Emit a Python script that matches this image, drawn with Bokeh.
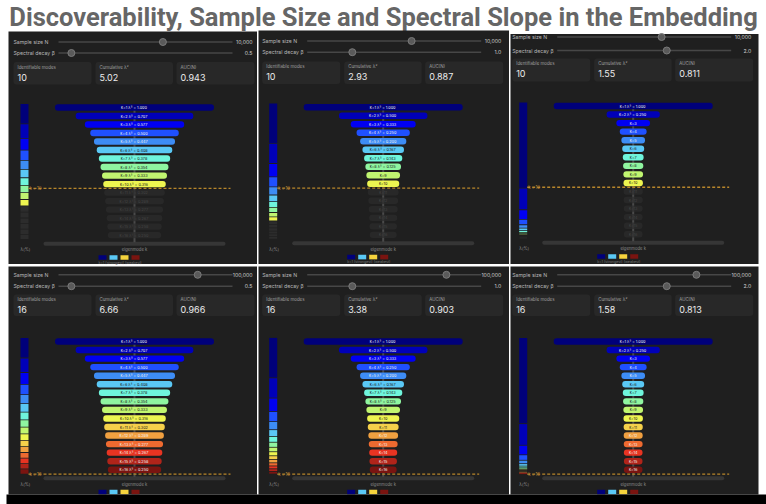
import math
from bokeh.plotting import figure
from bokeh.models import Range1d, ColumnDataSource
from bokeh.core.properties import value
from bokeh.embed import file_html
from bokeh.resources import INLINE

# ---- data -------------------------------------------------------------
panel_N = [10000, 10000, 10000, 100000, 100000, 100000]
panel_N_label = ["10,000", "10,000", "10,000", "100,000", "100,000", "100,000"]
panel_beta = [0.5, 1.0, 2.0, 0.5, 1.0, 2.0]
panel_beta_label = ["0.5", "1.0", "2.0", "0.5", "1.0", "2.0"]
identifiable_modes = [10, 10, 10, 16, 16, 16]
cumulative_lambda = [5.02, 2.93, 1.55, 6.66, 3.38, 1.58]
auc_N = [0.943, 0.887, 0.811, 0.966, 0.903, 0.813]

eigen_b05 = [1.000, 0.707, 0.577, 0.500, 0.447, 0.408, 0.378, 0.354,
             0.333, 0.316, 0.302, 0.289, 0.277, 0.267, 0.258, 0.250]
eigen_b10 = [1.000, 0.500, 0.333, 0.250, 0.200, 0.167, 0.143, 0.125,
             0.111, 0.100, 0.091, 0.083, 0.077, 0.071, 0.067, 0.063]
eigen_b20 = [1.000, 0.250, 0.111, 0.063, 0.040, 0.028, 0.020, 0.016,
             0.012, 0.010, 0.008, 0.007, 0.006, 0.005, 0.004, 0.004]
eigen_by_beta = {0.5: eigen_b05, 1.0: eigen_b10, 2.0: eigen_b20}

mode_colors = ["#00007a", "#0000b8", "#0000f2", "#1f50ff", "#3d8cf5", "#5ac8f5",
               "#6ff5dc", "#8ff5a0", "#c0f570", "#eef550", "#f5d04a", "#f0a040",
               "#ee6a30", "#e83422", "#b0241a", "#7a1410"]
dark_text_modes = [6, 7, 8, 9, 10, 11]
legend_colors = ["#00007a", "#5ac8f5", "#f5d33d", "#7a1410"]

N_slider_range = (10, 1_000_000)      # log slider
beta_slider_range = (0.3, 3.0)

# ---- layout (pixel space) ---------------------------------------------
W, H = 766, 504
panel_box = [(8, 256.5, 31, 263.5), (258, 508.5, 30, 263.5), (510, 758, 33.5, 263.5),
             (8, 256.5, 266, 494), (258, 508.5, 266, 494), (510, 758, 266, 494)]
stack_left = [20, 268.7, 518.7]
header_y = [(41.5, 52.5), (40.5, 51.7), (36.5, 50), (274.3, 285.7), (274.3, 285.7), (274.3, 285.7)]
card_y = [(61.5, 84), (61, 83.5), (58, 81), (294, 315.5), (294, 315.5), (294, 315.5)]
first_y = [107, 106.7, 105.5, 341, 341, 341]
row_pitch = [8.51, 8.51, 8.55, 8.55, 8.55, 8.55]

FONT = value("Inter")

p = figure(width=W, height=H, x_range=Range1d(0, W), y_range=Range1d(H, 0),
           output_backend="svg", toolbar_location=None, min_border=0)
p.axis.visible = False
p.grid.visible = False
p.outline_line_color = None
p.background_fill_color = "white"
p.border_fill_color = "white"

# title
p.text(x=[W / 2], y=[16], text=["Discoverability, Sample Size and Spectral Slope in the Embedding"],
       text_font=value("Roboto"), text_font_style="bold",
       text_font_size="25.5px", text_color="#666666", text_align="center",
       text_baseline="middle")

# panel backgrounds
bg = dict(l=[b[0] for b in panel_box], r=[b[1] for b in panel_box],
          t=[b[2] for b in panel_box], b=[b[3] for b in panel_box])
p.quad(left="l", right="r", top="t", bottom="b", source=ColumnDataSource(bg),
       fill_color="#1f1f1f", line_color=None)

txt = dict(x=[], y=[], text=[], size=[], color=[], align=[])
def add_text(x, y, s, size, color, align="left"):
    txt["x"].append(x); txt["y"].append(y); txt["text"].append(s)
    txt["size"].append(f"{size}px"); txt["color"].append(color); txt["align"].append(align)

tracks = dict(x0=[], x1=[], y=[])
knobs = dict(x=[], y=[])
cards = dict(l=[], r=[], t=[], b=[])
bars = dict(l=[], r=[], t=[], b=[], color=[], alpha=[])
stack = dict(l=[], r=[], t=[], b=[], color=[])
vlines = dict(x=[], y0=[], y1=[])
dash = dict(x0=[], x1=[], y=[])
ktracks = dict(l=[], r=[], t=[], b=[])
swatch = dict(l=[], r=[], t=[], b=[], color=[])

for i in range(6):
    r, c = divmod(i, 3)
    sx = stack_left[c]
    # sliders
    t0, t1 = sx + 38, sx + 212
    fN = ((math.log10(panel_N[i]) - math.log10(N_slider_range[0])) /
          (math.log10(N_slider_range[1]) - math.log10(N_slider_range[0])))
    fB = (panel_beta[i] - beta_slider_range[0]) / (beta_slider_range[1] - beta_slider_range[0])
    for yy, lab, val, frac in [(header_y[i][0], "Sample size N", panel_N_label[i], fN),
                               (header_y[i][1], "Spectral decay β", panel_beta_label[i], fB)]:
        add_text(sx - 7, yy, lab, 5.2, "#b8b8b8")
        add_text(sx + 232, yy, val, 5.2, "#d0d0d0", "right")
        tracks["x0"].append(t0); tracks["x1"].append(t1); tracks["y"].append(yy)
        knobs["x"].append(t0 + frac * (t1 - t0)); knobs["y"].append(yy)
    # stat cards
    ct, cb = card_y[i]
    for (a, b_), lab, val in [((-7, 71), "Identifiable modes", f"{identifiable_modes[i]}"),
                              ((75, 152.5), "Cumulative λ²", f"{cumulative_lambda[i]:.2f}"),
                              ((156, 234), "AUC(N)", f"{auc_N[i]:.3f}")]:
        cards["l"].append(sx + a); cards["r"].append(sx + b_)
        cards["t"].append(ct); cards["b"].append(cb)
        add_text(sx + a + 4, ct + 5, lab, 4.4, "#a0a0a0")
        add_text(sx + a + 4, ct + 15, val, 9, "#ececec")
    # funnel
    lam = eigen_by_beta[panel_beta[i]]
    nid = identifiable_modes[i]
    cx = sx + 114
    y1 = first_y[i]
    pitch = row_pitch[i]
    ylast = y1 + 15 * pitch
    vlines["x"].append(cx); vlines["y0"].append(y1); vlines["y1"].append(ylast + 7)
    total = sum(lam)
    top = y1 - 4
    span = (ylast + 4.3) - top
    acc = top
    for k in range(1, 17):
        v = lam[k - 1]
        yk = y1 + (k - 1) * pitch
        w = 18 + 141 * v
        active = k <= nid
        bars["l"].append(cx - w / 2); bars["r"].append(cx + w / 2)
        bars["t"].append(yk - 3.2); bars["b"].append(yk + 3.2)
        bars["color"].append(mode_colors[k - 1] if active else "#2c2c2c")
        bars["alpha"].append(1.0 if active else 0.75)
        label = f"k={k}  λ² = {v:.3f}" if v >= 0.12 else f"k={k}"
        if active:
            tc = "#1a1a1a" if k in dark_text_modes else "#f0f0f0"
        else:
            tc = "#454545"
        add_text(cx, yk, label, 3.8, tc, "center")
        h = span * v / total
        stack["l"].append(sx); stack["r"].append(sx + 8)
        stack["t"].append(acc + 0.4); stack["b"].append(acc + h - 0.4)
        stack["color"].append(mode_colors[k - 1] if active else "#2c2c2c")
        acc += h
    # identifiability threshold
    yd = y1 + (nid - 0.5) * pitch
    dash["x0"].append(sx + 8); dash["x1"].append(sx + 210); dash["y"].append(yd)
    add_text(sx + 9, yd, f"k = {nid}", 4.2, "#c8903a")
    # axis track and labels
    ktracks["l"].append(sx + 23); ktracks["r"].append(sx + 205)
    ktracks["t"].append(ylast + 6.5); ktracks["b"].append(ylast + 10.5)
    add_text(cx, ylast + 14.5, "eigenmode k", 4.2, "#8a8a8a", "center")
    add_text(sx, ylast + 14.5, "λ(%)", 4.2, "#8a8a8a")
    for j, col in enumerate(legend_colors):
        xl = cx - 36 + 11 * j
        swatch["l"].append(xl); swatch["r"].append(xl + 8)
        swatch["t"].append(ylast + 20); swatch["b"].append(ylast + 24.5)
        swatch["color"].append(col)
    add_text(cx - 36, ylast + 27.5, "k=1 (strongest)   (weakest)", 3.6, "#777777")

p.segment(x0="x0", x1="x1", y0="y", y1="y", source=ColumnDataSource(tracks),
          line_color="#474747", line_width=1.5)
p.scatter(x="x", y="y", source=ColumnDataSource(knobs), size=7,
          fill_color="#5a5a5a", line_color="#7a7a7a", line_width=1)
p.quad(left="l", right="r", top="t", bottom="b", source=ColumnDataSource(cards),
       fill_color="#282828", line_color=None, border_radius=3)
p.quad(left="l", right="r", top="t", bottom="b", source=ColumnDataSource(ktracks),
       fill_color="#363636", line_color=None, border_radius=2)
p.segment(x0="x", x1="x", y0="y0", y1="y1", source=ColumnDataSource(vlines),
          line_color="#4a4a4a", line_width=2)
p.quad(left="l", right="r", top="t", bottom="b", source=ColumnDataSource(bars),
       fill_color="color", fill_alpha="alpha", line_color=None, border_radius=3)
p.quad(left="l", right="r", top="t", bottom="b", source=ColumnDataSource(stack),
       fill_color="color", line_color=None)
p.segment(x0="x0", x1="x1", y0="y", y1="y", source=ColumnDataSource(dash),
          line_color="#b8862b", line_width=1.3, line_dash="3 2")
p.quad(left="l", right="r", top="t", bottom="b", source=ColumnDataSource(swatch),
       fill_color="color", line_color=None)

p.text(x="x", y="y", text="text", source=ColumnDataSource(txt),
       text_font=FONT, text_font_size="size",
       text_color="color", text_align="align", text_baseline="middle")

# bottom strip
p.quad(left=[6], right=[W], top=[494], bottom=[H], fill_color="black", line_color=None)

open("out.html", "w").write(file_html(p, INLINE))
